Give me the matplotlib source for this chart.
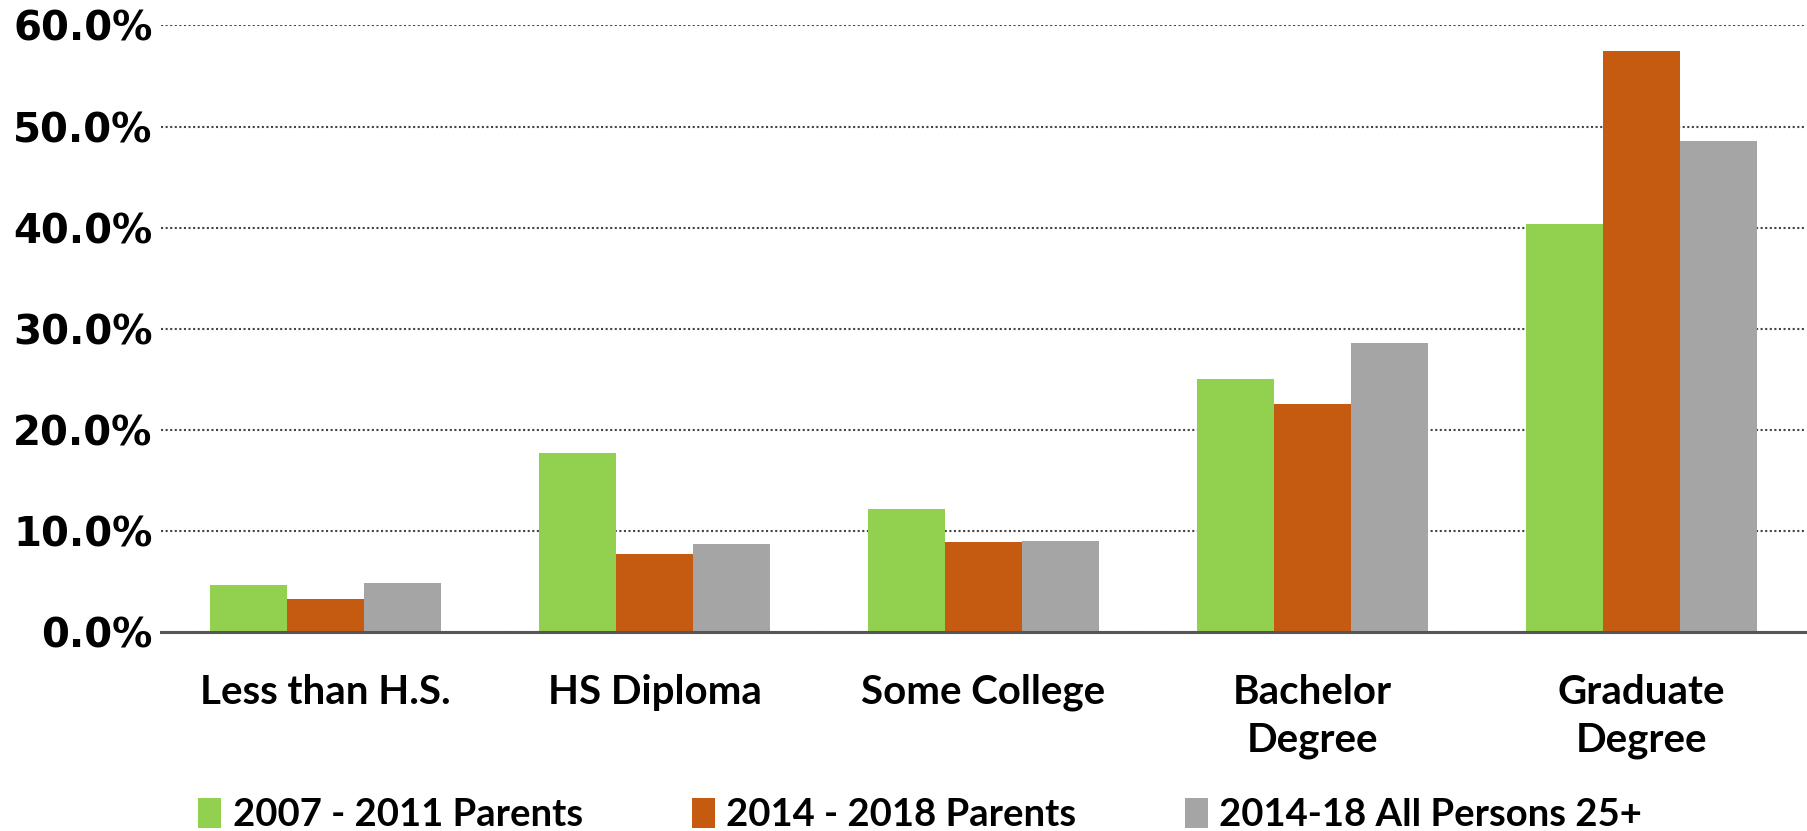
import numpy as np
import matplotlib
matplotlib.use('Agg')
import matplotlib.pyplot as plt
from matplotlib.ticker import PercentFormatter

categories = ["Less than H.S.", "HS Diploma", "Some College", "Bachelor\nDegree", "Graduate\nDegree"]
series_names = ["2007 - 2011 Parents", "2014 - 2018 Parents", "2014-18 All Persons 25+"]
parents_0711 = [4.6, 17.7, 12.2, 25.0, 40.4]
parents_1418 = [3.3, 7.7, 8.9, 22.6, 57.5]
all_25plus = [4.8, 8.7, 9.0, 28.6, 48.6]
colors = ["#92D050", "#C55A11", "#A5A5A5"]

fig = plt.figure(figsize=(18.08, 8.31), dpi=100)
ax = fig.add_axes([0.089, 0.2395, 0.91, 0.7299])

x = np.arange(len(categories))
w = 0.234
for j, vals in enumerate([parents_0711, parents_1418, all_25plus]):
    ax.bar(x + (j - 1) * w, vals, width=w, color=colors[j], label=series_names[j], zorder=2)

ax.set_xlim(-0.5, len(categories) - 0.5)
ax.set_ylim(0, 60)
ax.set_yticks(np.arange(0, 61, 10))
ax.yaxis.set_major_formatter(PercentFormatter(decimals=1))
ax.grid(axis='y', linestyle=(0, (1, 1.2)), color='#444444', linewidth=1.5, zorder=0)

for s in ['top', 'right', 'left']:
    ax.spines[s].set_visible(False)
ax.spines['bottom'].set_color('#555555')
ax.spines['bottom'].set_linewidth(2.2)
ax.spines['bottom'].set_zorder(3)
ax.tick_params(length=0)
ax.tick_params(axis='y', pad=6)
ax.tick_params(axis='x', pad=30)

for lab in ax.get_yticklabels():
    lab.set_fontfamily('DejaVu Sans')
    lab.set_fontweight('bold')
    lab.set_fontsize(29)

ax.set_xticks(x)
ax.set_xticklabels(categories, fontfamily='Lato', fontweight='bold', fontsize=29,
                   linespacing=1.35, va='top')

fig.legend(loc='center', bbox_to_anchor=(0.509, 0.019), ncol=3, frameon=False,
           prop={'family': 'Lato', 'weight': 'bold', 'size': 27.5},
           handlelength=0.6, handleheight=0.85, handletextpad=0.3, columnspacing=2.85,
           borderpad=0, borderaxespad=0)

fig.savefig("out.png", dpi=100)
